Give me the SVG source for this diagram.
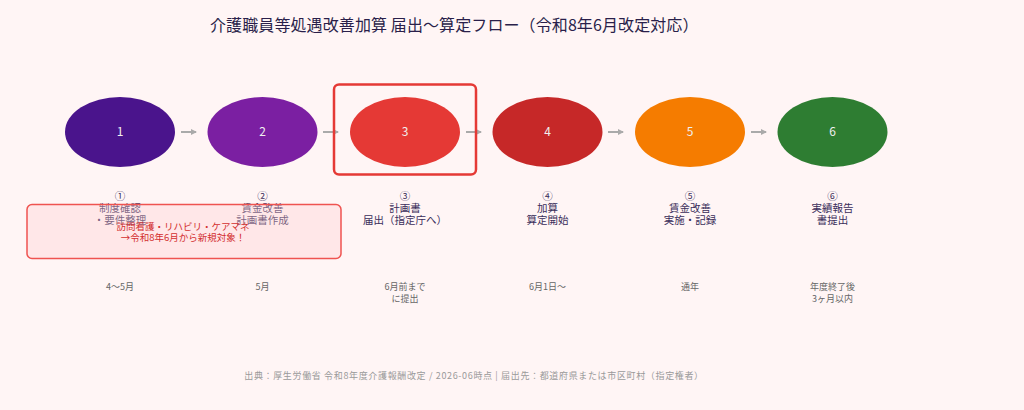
<svg xmlns="http://www.w3.org/2000/svg" width="1024" height="410" viewBox="0 0 1024 410">
<style>
text{font-family:"Noto Sans CJK JP","Noto Sans",sans-serif;}
.title{font-size:16px;fill:#2a1f4a;letter-spacing:0.1px;}
.num{font-size:12px;fill:#f0f0f0;text-anchor:middle;}
.lbl{font-size:10.5px;fill:#3a2d5a;text-anchor:middle;}
.time{font-size:9px;fill:#666;text-anchor:middle;}
.note{font-size:9.5px;fill:#d32f2f;text-anchor:middle;}
.foot{font-size:9px;fill:#9a9a9a;text-anchor:middle;letter-spacing:0.65px;}
.arr{stroke:#aaaaaa;stroke-width:2;fill:none;marker-end:url(#ah);}
</style>
<defs>
<marker id="ah" markerWidth="6" markerHeight="6" refX="5" refY="3" orient="auto" markerUnits="userSpaceOnUse">
<path d="M0,0 L6,3 L0,6 z" fill="#aaaaaa"/>
</marker>
</defs>
<rect width="1024" height="410" fill="#fff5f5"/>
<text class="title" x="210" y="31">介護職員等処遇改善加算 届出〜算定フロー（令和8年6月改定対応）</text>
<g id="connectors">
<line class="arr" x1="181" y1="132" x2="196" y2="132"/>
<line class="arr" x1="323" y1="132" x2="338" y2="132"/>
<line class="arr" x1="466" y1="132" x2="481" y2="132"/>
<line class="arr" x1="608" y1="132" x2="623" y2="132"/>
<line class="arr" x1="751" y1="132" x2="766" y2="132"/>
</g>
<g id="highlight">
<rect x="334" y="84.5" width="142" height="90" rx="5" fill="none" stroke="#e53935" stroke-width="2.5"/>
</g>
<g id="node1">
<ellipse cx="120" cy="132" rx="55" ry="35" fill="#4a148c"/>
<text class="num" x="120" y="136">1</text>
<text class="lbl" x="120" y="200">①</text>
<text class="lbl" x="120" y="212">制度確認</text>
<text class="lbl" x="120" y="224">・要件整理</text>
<text class="time" x="120" y="290">4〜5月</text>
</g>
<g id="node2">
<ellipse cx="262.5" cy="132" rx="55" ry="35" fill="#7b1fa2"/>
<text class="num" x="262.5" y="136">2</text>
<text class="lbl" x="262.5" y="200">②</text>
<text class="lbl" x="262.5" y="212">賃金改善</text>
<text class="lbl" x="262.5" y="224">計画書作成</text>
<text class="time" x="262.5" y="290">5月</text>
</g>
<g id="node3">
<ellipse cx="405" cy="132" rx="55" ry="35" fill="#e53935"/>
<text class="num" x="405" y="136">3</text>
<text class="lbl" x="405" y="200">③</text>
<text class="lbl" x="405" y="212">計画書</text>
<text class="lbl" x="405" y="224">届出（指定庁へ）</text>
<text class="time" x="405" y="290">6月前まで</text>
<text class="time" x="405" y="302">に提出</text>
</g>
<g id="node4">
<ellipse cx="547.5" cy="132" rx="55" ry="35" fill="#c62828"/>
<text class="num" x="547.5" y="136">4</text>
<text class="lbl" x="547.5" y="200">④</text>
<text class="lbl" x="547.5" y="212">加算</text>
<text class="lbl" x="547.5" y="224">算定開始</text>
<text class="time" x="547.5" y="290">6月1日〜</text>
</g>
<g id="node5">
<ellipse cx="690" cy="132" rx="55" ry="35" fill="#f57c00"/>
<text class="num" x="690" y="136">5</text>
<text class="lbl" x="690" y="200">⑤</text>
<text class="lbl" x="690" y="212">賃金改善</text>
<text class="lbl" x="690" y="224">実施・記録</text>
<text class="time" x="690" y="290">通年</text>
</g>
<g id="node6">
<ellipse cx="832.5" cy="132" rx="55" ry="35" fill="#2e7d32"/>
<text class="num" x="832.5" y="136">6</text>
<text class="lbl" x="832.5" y="200">⑥</text>
<text class="lbl" x="832.5" y="212">実績報告</text>
<text class="lbl" x="832.5" y="224">書提出</text>
<text class="time" x="832.5" y="290">年度終了後</text>
<text class="time" x="832.5" y="302">3ヶ月以内</text>
</g>
<g id="note">
<rect x="27" y="204.5" width="314" height="54" rx="5" fill="#ffcdd2" fill-opacity="0.35" stroke="#ef5350" stroke-width="1.5"/>
<text class="note" x="183" y="230">訪問看護・リハビリ・ケアマネ</text>
<text class="note" x="183" y="241">→令和8年6月から新規対象！</text>
</g>
<text class="foot" x="474" y="379">出典：厚生労働省 令和8年度介護報酬改定 / 2026-06時点 | 届出先：都道府県または市区町村（指定権者）</text>
</svg>
